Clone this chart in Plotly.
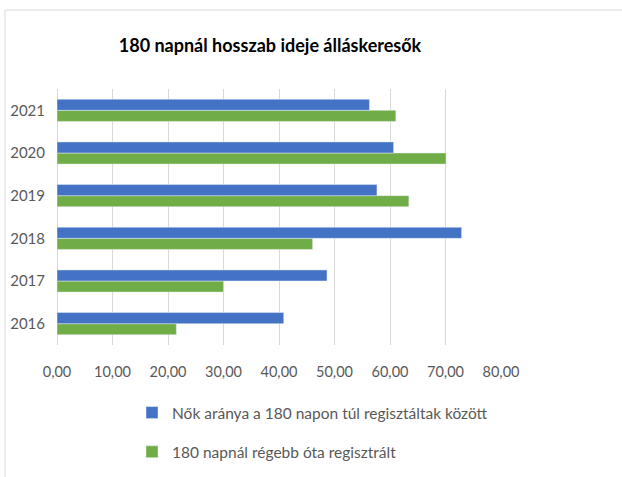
import plotly.graph_objects as go

years = ["2016", "2017", "2018", "2019", "2020", "2021"]
nok_aranya = [40.85, 48.65, 72.9, 57.65, 60.65, 56.3]
regebb_ota = [21.5, 30.0, 46.05, 63.4, 70.1, 61.05]
x_ticks = [0, 10, 20, 30, 40, 50, 60, 70, 80]
x_tick_labels = ["0,00", "10,00", "20,00", "30,00", "40,00", "50,00", "60,00", "70,00", "80,00"]

name_blue = "Nők aránya a 180 napon túl regisztáltak között"
name_green = "180 napnál régebb óta regisztrált"
title = "180 napnál hosszab ideje álláskeresők"

FONT = "Lato, sans-serif"

fig = go.Figure()
fig.add_trace(go.Bar(y=years, x=regebb_ota, orientation="h", name=name_green,
                     marker=dict(color="#70ad47"), legendgroup="g", legendrank=2))
fig.add_trace(go.Bar(y=years, x=nok_aranya, orientation="h", name=name_blue,
                     marker=dict(color="#4472c4"), legendgroup="b", legendrank=1))

W, H = 622, 477
l, r, t, b = 57, 121, 89, 132
pw, ph = W - l - r, H - t - b

def px_x(p):
    return (p - l) / pw

def px_y(p):
    return (H - b - p) / ph

fig.update_layout(
    width=W, height=H,
    margin=dict(l=l, r=r, t=t, b=b, autoexpand=False),
    paper_bgcolor="white", plot_bgcolor="white",
    barmode="group", bargap=0.48, bargroupgap=0,
    font=dict(family=FONT, color="#595959", size=15),
    title=dict(text="<b>" + title + "</b>", xref="container", yref="container",
               x=270 / W, y=1 - 46 / H, xanchor="center", yanchor="middle",
               font=dict(family=FONT, size=18, color="#000000")),
    xaxis=dict(range=[0, 80], tickvals=x_ticks, ticktext=x_tick_labels,
               automargin=False, ticklabelstandoff=16,
               showgrid=True, gridcolor="#d9d9d9", gridwidth=1,
               zeroline=True, zerolinecolor="#d9d9d9", zerolinewidth=1,
               showline=False, ticks="", tickfont=dict(size=14.5, color="#595959")),
    yaxis=dict(type="category", categoryorder="array", categoryarray=years,
               automargin=False,
               showgrid=False, zeroline=False, showline=False, ticks="",
               ticklabelstandoff=11,
               tickfont=dict(size=15, color="#595959")),
    legend=dict(orientation="v", x=px_x(132), y=px_y(396), xanchor="left", yanchor="top",
                traceorder="grouped", tracegroupgap=16,
                font=dict(size=15.5, color="#595959"), bgcolor="rgba(0,0,0,0)"),
    showlegend=True,
    shapes=[
        dict(type="line", xref="paper", yref="paper", x0=px_x(5), x1=px_x(5),
             y0=px_y(10), y1=px_y(480), line=dict(color="#d9d9d9", width=1)),
        dict(type="line", xref="paper", yref="paper", x0=px_x(5), x1=px_x(630),
             y0=px_y(10), y1=px_y(10), line=dict(color="#d9d9d9", width=1)),
    ],
)

fig.write_html("out.html", config={"displayModeBar": False},
               post_script="document.body.style.margin='0';document.body.style.overflow='hidden';")
